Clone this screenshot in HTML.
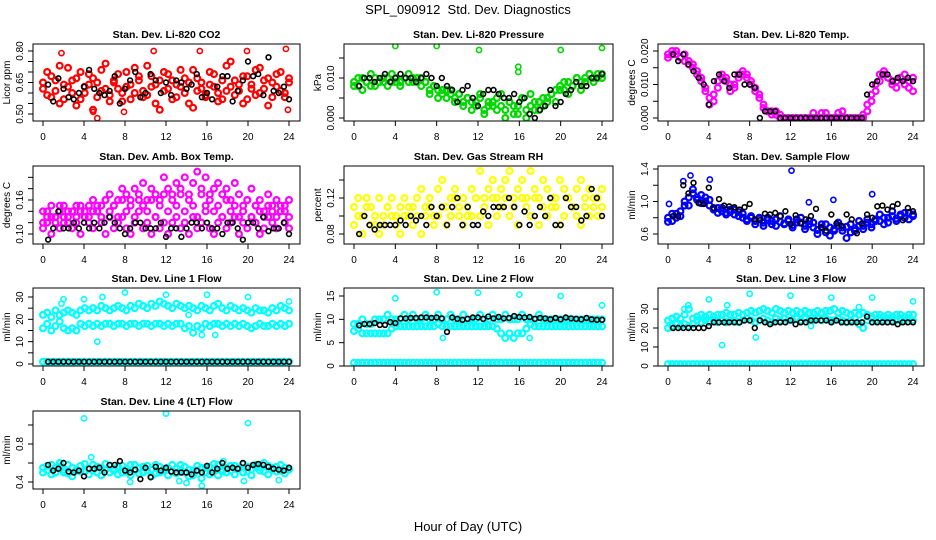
<!DOCTYPE html>
<html><head><meta charset="utf-8"><style>
html,body{margin:0;padding:0;background:#fff;}
svg{display:block;font-family:"Liberation Sans",Arial,sans-serif;}
</style></head><body>
<svg id="chart" width="936" height="540" viewBox="0 0 936 540" xmlns="http://www.w3.org/2000/svg">
<rect x="0" y="0" width="936" height="540" fill="#fff"/>
<text x="468" y="14" text-anchor="middle" font-size="13">SPL_090912&#160; Std. Dev. Diagnostics</text>
<text x="468" y="531" text-anchor="middle" font-size="13">Hour of Day (UTC)</text>
</svg>
<script>
// ---- data ----
const xTicks=[0,4,8,12,16,20,24];
const co2A=[0.62,0.70,0.58,0.66,0.55,0.64,0.72,0.60,0.67,0.57,0.63,0.69,0.52,0.65,0.61,0.74,0.59,0.66,0.62,0.56,0.70,0.64,0.60,0.68,0.58,0.73,0.63,0.55,0.66,0.61,0.69,0.57,0.64,0.71,0.60,0.65,0.53,0.67,0.62,0.58,0.70,0.63,0.56,0.66,0.61,0.75,0.59,0.64,0.68,0.57,0.62,0.71,0.60,0.66,0.54,0.65,0.69,0.61,0.58,0.67];
const co2B=[0.65,0.59,0.68,0.61,0.73,0.57,0.63,0.66,0.54,0.70,0.60,0.64,0.67,0.58,0.71,0.62,0.56,0.65,0.69,0.60,0.63,0.57,0.72,0.66,0.61,0.59,0.68,0.64,0.52,0.70,0.62,0.66,0.58,0.63,0.67,0.55,0.71,0.61,0.65,0.59,0.64,0.69,0.60,0.57,0.73,0.63,0.66,0.61,0.55,0.68,0.64,0.59,0.72,0.62,0.67,0.58,0.63,0.70,0.60,0.65];
const co2OutH=[1.8,5.3,7.9,10.8,15.3,19.9,23.7,23.9,4.9];
const co2OutV=[0.79,0.48,0.51,0.80,0.80,0.80,0.81,0.52,0.51];
const co2K=[0.64,0.56,0.67,0.62,0.58,0.57,0.60,0.63,0.71,0.62,0.60,0.59,0.61,0.68,0.55,0.62,0.66,0.70,0.58,0.60,0.69,0.66,0.60,0.65,0.59,0.66,0.65,0.62,0.64,0.69,0.58,0.60,0.57,0.63,0.68,0.68,0.56,0.61,0.66,0.75,0.68,0.69,0.59,0.77,0.61,0.60,0.63,0.57];

const prA=[0.009,0.008,0.010,0.009,0.008,0.010,0.009,0.009,0.010,0.009,0.010,0.009,0.010,0.009,0.010,0.009,0.010,0.009,0.007,0.008,0.007,0.006,0.007,0.006,0.005,0.006,0.004,0.005,0.004,0.003,0.005,0.002,0.004,0.003,0.005,0.003,0.002,0.004,0.003,0.001,0.005,0.002,0.003,0.004,0.002,0.005,0.004,0.006,0.007,0.008,0.007,0.009,0.008,0.010,0.009,0.010,0.011,0.010,0.011,0.010];
const prB=[0.008,0.010,0.007,0.009,0.011,0.008,0.009,0.010,0.008,0.011,0.009,0.008,0.010,0.011,0.009,0.010,0.008,0.009,0.006,0.008,0.005,0.007,0.005,0.007,0.004,0.006,0.003,0.005,0.002,0.004,0.006,0.001,0.003,0.004,0.002,0.006,0.000,0.004,0.001,0.003,0.005,0.000,0.006,0.002,0.004,0.003,0.005,0.006,0.004,0.007,0.009,0.006,0.008,0.010,0.007,0.009,0.011,0.009,0.010,0.011];
const prOutH=[4,8,12.1,20,24,15.9,15.9];
const prOutV=[0.018,0.018,0.017,0.017,0.0175,0.0128,0.0115];
const prK=[0.008,0.010,0.010,0.009,0.010,0.011,0.009,0.010,0.011,0.010,0.010,0.009,0.010,0.011,0.010,0.008,0.010,0.008,0.007,0.004,0.007,0.008,0.005,0.003,0.006,0.007,0.007,0.006,0.005,0.005,0.006,0.004,0.005,0.001,0.000,0.002,0.003,0.007,0.003,0.004,0.006,0.007,0.009,0.008,0.008,0.010,0.010,0.011];

const tpA=[0.019,0.020,0.019,0.018,0.019,0.017,0.016,0.014,0.011,0.008,0.004,0.007,0.011,0.013,0.011,0.008,0.010,0.013,0.013,0.012,0.010,0.008,0.006,0.003,0.002,0.001,0.002,0.001,0,0,0,0,0,0,0,0.0015,0,0.0015,0.0015,0,0,0.0015,0.002,0,0,0,0,0.001,0.004,0.007,0.010,0.013,0.013,0.012,0.010,0.011,0.012,0.010,0.009,0.012];
const tpB=[0.018,0.019,0.020,0.018,0.017,0.016,0.015,0.013,0.012,0.009,0.006,0.005,0.009,0.012,0.012,0.010,0.009,0.012,0.014,0.013,0.011,0.009,0.007,0.004,0.002,0.002,0.001,0,0,0,0,0,0,0,0,0,0,0,0,0,0,0,0,0,0,0,0,0,0.002,0.005,0.008,0.011,0.014,0.012,0.011,0.009,0.012,0.013,0.011,0.008];
const tpK=[0.019,0.017,0.019,0.016,0.014,0.012,0.010,0.004,0.011,0.013,0.011,0.009,0.013,0.013,0.010,0.010,0.009,0,0.002,0.002,0.002,0,0,0,0,0,0,0,0,0,0,0,0,0,0,0,0,0,0.007,0.010,0.011,0.013,0.013,0.011,0.012,0.011,0.012,0.011];

const abA=[0.11,0.12,0.10,0.13,0.11,0.12,0.14,0.11,0.12,0.10,0.13,0.12,0.11,0.14,0.12,0.10,0.13,0.11,0.12,0.13,0.11,0.10,0.12,0.14,0.11,0.12,0.10,0.13,0.11,0.12,0.10,0.12,0.13,0.11,0.12,0.10,0.13,0.11,0.12,0.14,0.11,0.10,0.12,0.13,0.11,0.12,0.13,0.10,0.12,0.11,0.13,0.12,0.10,0.11,0.13,0.12,0.11,0.14,0.12,0.11];
const abB=[0.14,0.13,0.15,0.13,0.14,0.15,0.13,0.14,0.15,0.14,0.13,0.15,0.16,0.14,0.15,0.16,0.17,0.15,0.16,0.18,0.17,0.16,0.18,0.17,0.19,0.16,0.18,0.17,0.16,0.20,0.18,0.17,0.19,0.18,0.20,0.17,0.19,0.21,0.18,0.20,0.17,0.18,0.19,0.17,0.18,0.16,0.19,0.17,0.15,0.16,0.18,0.15,0.16,0.14,0.17,0.15,0.16,0.14,0.15,0.16];
const abC=[0.12,0.14,0.13,0.12,0.15,0.13,0.12,0.14,0.13,0.15,0.14,0.13,0.14,0.15,0.13,0.16,0.14,0.15,0.13,0.16,0.14,0.15,0.13,0.16,0.15,0.14,0.16,0.13,0.15,0.17,0.14,0.16,0.15,0.17,0.14,0.16,0.15,0.13,0.17,0.15,0.16,0.14,0.15,0.13,0.16,0.14,0.15,0.13,0.14,0.16,0.13,0.15,0.14,0.13,0.15,0.14,0.13,0.15,0.14,0.13];
const abK=[0.09,0.11,0.14,0.11,0.11,0.12,0.11,0.12,0.11,0.12,0.11,0.12,0.13,0.12,0.11,0.10,0.11,0.12,0.12,0.11,0.11,0.11,0.12,0.095,0.11,0.11,0.095,0.11,0.12,0.12,0.11,0.12,0.11,0.11,0.10,0.12,0.12,0.11,0.09,0.12,0.12,0.11,0.13,0.105,0.11,0.11,0.12,0.10];

const rhA=[0.09,0.10,0.08,0.11,0.09,0.10,0.08,0.09,0.11,0.10,0.09,0.08,0.10,0.11,0.09,0.10,0.08,0.10,0.11,0.09,0.10,0.11,0.09,0.10,0.12,0.10,0.09,0.11,0.10,0.12,0.10,0.11,0.09,0.12,0.10,0.11,0.12,0.10,0.11,0.09,0.12,0.11,0.10,0.12,0.09,0.11,0.10,0.12,0.11,0.09,0.10,0.12,0.11,0.10,0.09,0.11,0.10,0.12,0.10,0.11];
const rhB=[0.11,0.12,0.10,0.12,0.11,0.09,0.12,0.10,0.11,0.12,0.10,0.11,0.12,0.10,0.11,0.12,0.13,0.11,0.12,0.10,0.13,0.14,0.11,0.12,0.13,0.11,0.12,0.10,0.13,0.12,0.15,0.12,0.13,0.14,0.12,0.13,0.14,0.15,0.12,0.13,0.14,0.12,0.15,0.13,0.12,0.14,0.13,0.11,0.12,0.14,0.13,0.12,0.11,0.13,0.14,0.12,0.13,0.11,0.12,0.13];
const rhK=[0.08,0.10,0.09,0.085,0.09,0.09,0.09,0.09,0.095,0.09,0.10,0.095,0.10,0.09,0.11,0.10,0.11,0.09,0.11,0.12,0.09,0.11,0.09,0.09,0.105,0.10,0.11,0.11,0.11,0.12,0.11,0.09,0.105,0.09,0.10,0.11,0.10,0.12,0.09,0.09,0.12,0.11,0.11,0.095,0.10,0.13,0.12,0.10];

const sfA=[0.80,0.76,0.85,0.82,0.95,1.05,1.10,1.02,0.98,1.05,0.95,0.90,0.92,0.88,0.86,0.90,0.84,0.87,0.80,0.78,0.82,0.76,0.79,0.74,0.77,0.72,0.78,0.75,0.73,0.76,0.71,0.78,0.74,0.70,0.76,0.68,0.65,0.72,0.62,0.68,0.66,0.70,0.64,0.69,0.62,0.67,0.70,0.66,0.74,0.72,0.78,0.76,0.80,0.74,0.82,0.79,0.84,0.80,0.86,0.82];
const sfB=[0.75,0.85,0.80,0.88,1.00,0.95,1.15,1.05,1.08,1.00,1.02,0.92,0.86,0.92,0.84,0.87,0.90,0.82,0.85,0.76,0.80,0.72,0.80,0.70,0.80,0.76,0.70,0.82,0.72,0.78,0.68,0.74,0.80,0.66,0.72,0.74,0.60,0.68,0.72,0.58,0.64,0.74,0.68,0.55,0.72,0.64,0.76,0.70,0.78,0.68,0.76,0.84,0.72,0.80,0.88,0.76,0.82,0.86,0.78,0.84];
const sfOutH=[12.1,1.5,2.2,4.1,20,0.1,16.2,13.8];
const sfOutV=[1.38,1.25,1.32,1.27,1.09,0.97,1.02,0.99];
const sfK=[0.82,0.82,1.20,1.10,1.23,0.98,0.97,1.17,0.92,1.03,0.95,0.94,0.93,0.90,0.93,0.97,0.78,0.77,0.85,0.84,0.86,0.82,0.88,0.72,0.83,0.73,0.78,0.82,0.91,0.68,0.64,0.84,0.73,0.70,0.84,0.78,0.61,0.73,0.84,0.80,0.94,0.95,0.90,0.94,0.97,0.77,0.92,0.88];

const l1Up=[22,23,21,24,22,23,24,23,22,24,25,24,25,24,26,25,24,25,26,25,24,26,25,27,26,25,27,26,28,27,26,25,27,26,25,26,25,24,26,25,24,26,27,25,24,26,25,24,25,24,23,25,24,24,23,25,24,26,25,24];
const l1Lo=[16,18,15,17,19,16,15,16,15,18,17,18,17,18,17,18,18,17,18,18,17,18,18,17,18,18,17,18,18,17,18,17,18,18,16,17,14,17,16,18,17,18,18,17,18,17,18,17,18,17,16,17,18,17,17,18,17,18,17,18];
const l1Zero=[1,1,1,1,1,1,1,1,1,1,1,1,1,1,1,1,1,1,1,1,1,1,1,1,1,1,1,1,1,1,1,1,1,1,1,1,1,1,1,1,1,1,1,1,1,1,1,1,1,1,1,1,1,1,1,1,1,1,1,1];
const l1OutH=[5.3,2,4,5.8,8,12,16,20,24,15.5,16.8,1.8,14.2];
const l1OutV=[10,29,29,30,32,31,31,30,28,13,13,27,22];
const l1K=[1,1,1,1,1,1,1,1,1,1,1,1,1,1,1,1,1,1,1,1,1,1,1,1,1,1,1,1,1,1,1,1,1,1,1,1,1,1,1,1,1,1,1,1,1,1,1,1];

const l2Up=[9,9,10,9,9,10,10,10,11,10,10,10,11,10,11,10,10,11,10,10,11,10,10,11,10,10,11,10,10,10,11,10,10,11,10,10,11,10,10,10,11,10,10,10,11,10,10,10,10,10,10,10,10,10,10,10,10,10,10,10];
const l2Lo=[7.5,8,7,7,7,7,7,7,7,8,8.5,8.5,8.5,8.5,8.5,8.5,8.5,8.5,8.5,8.5,9,8.5,8.5,8.5,8.5,8.5,8.5,8.5,8.5,8.5,8.5,8.5,8.5,8.5,8,7,6,7,6,7,7,8,9,8.5,8.5,8.5,8.5,8.5,8.5,8.5,8.5,8.5,8.5,8.5,8.5,8.5,8.5,8.5,8.5,8.5];
const l2Zero=[0.7,0.7,0.7,0.7,0.7,0.7,0.7,0.7,0.7,0.7,0.7,0.7,0.7,0.7,0.7,0.7,0.7,0.7,0.7,0.7,0.7,0.7,0.7,0.7,0.7,0.7,0.7,0.7,0.7,0.7,0.7,0.7,0.7,0.7,0.7,0.7,0.7,0.7,0.7,0.7,0.7,0.7,0.7,0.7,0.7,0.7,0.7,0.7,0.7,0.7,0.7,0.7,0.7,0.7,0.7,0.7,0.7,0.7,0.7,0.7];
const l2OutH=[4,8,12,16,20,24,8.6,17];
const l2OutV=[14.5,15.8,15.7,15.3,15,13,6,6];
const l2K=[8.7,9,9,9.2,8.8,8.8,9.4,9.2,10.2,10.2,10.3,10.3,10.4,10.4,10.3,10.4,10.2,7.3,10.4,10.1,9.9,10.1,10.4,10.4,10.1,10.6,10.2,10.5,10.2,10.3,10.7,10.5,10.4,10.5,10.1,10.3,10.2,10.0,10.3,10.0,10.4,10.2,10.1,10.0,10.3,10.0,9.9,9.9];

const l3Up=[24,25,26,25,27,30,25,26,27,26,27,26,27,27,28,27,27,28,27,28,29,28,29,30,29,28,30,29,28,29,28,29,28,29,28,28,29,28,29,29,30,28,29,28,27,28,27,28,27,26,27,27,26,27,26,27,27,26,27,27];
const l3Lo=[20,21,22,21,22,21,22,24,23,24,23,24,23,24,23,24,24,23,24,25,24,23,24,25,24,23,25,24,25,24,24,25,24,25,24,24,25,24,25,24,24,25,24,23,24,25,22,20,24,25,24,25,24,25,24,24,25,24,25,24];
const l3Zero=[1,1,1,1,1,1,1,1,1,1,1,1,1,1,1,1,1,1,1,1,1,1,1,1,1,1,1,1,1,1,1,1,1,1,1,1,1,1,1,1,1,1,1,1,1,1,1,1,1,1,1,1,1,1,1,1,1,1,1,1];
const l3OutH=[4,5.3,5.8,8,8.6,12,16,20,24,1.6,2,14,18.7];
const l3OutV=[35,11,32,38,15,37,36,36,34,30,32,21,31];
const l3K=[20,20,20,20,20,20,20,21,23,23,23,23,23,23,24,24,20,24,23,22,23,23,23,24,22,23,23,24,24,24,24,23,24,23,23,23,23,23,26,23,23,23,23,23,22,23,23,23];

const l4A=[0.55,0.52,0.58,0.50,0.56,0.53,0.49,0.55,0.52,0.57,0.51,0.54,0.58,0.50,0.55,0.53,0.57,0.52,0.56,0.50,0.54,0.58,0.52,0.55,0.50,0.57,0.53,0.49,0.56,0.52,0.55,0.51,0.54,0.58,0.50,0.53,0.47,0.52,0.55,0.50,0.56,0.53,0.58,0.51,0.55,0.52,0.57,0.54,0.50,0.56,0.53,0.58,0.55,0.51,0.57,0.53,0.56,0.52,0.55,0.53];
const l4B=[0.50,0.57,0.48,0.55,0.60,0.50,0.58,0.46,0.53,0.51,0.59,0.48,0.52,0.56,0.47,0.59,0.50,0.54,0.48,0.57,0.51,0.47,0.58,0.49,0.56,0.52,0.46,0.58,0.50,0.54,0.47,0.58,0.49,0.53,0.56,0.46,0.52,0.57,0.44,0.55,0.48,0.59,0.47,0.53,0.50,0.57,0.48,0.55,0.59,0.51,0.47,0.56,0.52,0.60,0.48,0.55,0.51,0.58,0.49,0.54];
const l4OutH=[4,12,20,4.7,8.5,15.5,19.6,23,17.6,14,13.3];
const l4OutV=[1.07,1.12,1.02,0.66,0.40,0.36,0.41,0.42,0.62,0.39,0.41];
const l4K=[0.58,0.52,0.54,0.60,0.51,0.50,0.52,0.46,0.54,0.54,0.55,0.50,0.58,0.58,0.62,0.52,0.50,0.53,0.43,0.55,0.45,0.56,0.52,0.55,0.51,0.50,0.50,0.50,0.48,0.52,0.50,0.57,0.50,0.54,0.60,0.54,0.55,0.54,0.60,0.55,0.58,0.59,0.58,0.56,0.54,0.53,0.52,0.55];

// ---- layout ----
const NS='http://www.w3.org/2000/svg';
const svg=document.getElementById('chart');
const colX0=[43,354,668], colX24=[289,602,913];
const rowTop=[44,166,288,411], rowBot=[121,244,366,489];
function mk(tag,attrs,parent){const e=document.createElementNS(NS,tag);for(const k in attrs)e.setAttribute(k,attrs[k]);(parent||svg).appendChild(e);return e;}
function fmt(v,d){return v.toFixed(d);}

const panels=[
 {name:'co2',title:'Stan. Dev. Li-820 CO2',ylab:'Licor ppm',c:0,r:0,cal:[0.80,51,0.50,114],ticks:[0.50,0.55,0.60,0.65,0.70,0.75,0.80],labs:[0.50,0.65,0.80],dec:2,col:'#ff0000',ser:[co2A,co2B],oh:co2OutH,ov:co2OutV,k:co2K},
 {name:'pressure',title:'Stan. Dev. Li-820 Pressure',ylab:'kPa',c:1,r:0,cal:[0.010,78,0.000,118],ticks:[0,0.005,0.010,0.015],labs:[0,0.010],dec:3,col:'#00d800',ser:[prA,prB],oh:prOutH,ov:prOutV,k:prK},
 {name:'temp',title:'Stan. Dev. Li-820 Temp.',ylab:'degrees C',c:2,r:0,cal:[0.020,51,0.000,118],ticks:[0,0.005,0.010,0.015,0.020],labs:[0,0.010,0.020],dec:3,col:'#ff00ff',ser:[tpA,tpB],oh:[],ov:[],k:tpK},
 {name:'amb-box-temp',title:'Stan. Dev. Amb. Box Temp.',ylab:'degrees C',c:0,r:1,cal:[0.16,200,0.10,234],ticks:[0.10,0.12,0.14,0.16,0.18,0.20],labs:[0.10,0.16],dec:2,col:'#ff00ff',ser:[abA,abB,abC],oh:[],ov:[],k:abK},
 {name:'gas-rh',title:'Stan. Dev. Gas Stream RH',ylab:'percent',c:1,r:1,cal:[0.12,198,0.08,234],ticks:[0.08,0.10,0.12,0.14],labs:[0.08,0.12],dec:2,col:'#ffff00',ser:[rhA,rhB],oh:[],ov:[],k:rhK},
 {name:'sample-flow',title:'Stan. Dev. Sample Flow',ylab:'ml/min',c:2,r:1,cal:[1.4,169,0.6,234],ticks:[0.6,0.8,1.0,1.2,1.4],labs:[0.6,1.0,1.4],dec:1,col:'#0000ff',ser:[sfA,sfB],oh:sfOutH,ov:sfOutV,k:sfK},
 {name:'line1-flow',title:'Stan. Dev. Line 1 Flow',ylab:'ml/min',c:0,r:2,cal:[30,297,0,364],ticks:[0,5,10,15,20,25,30],labs:[0,10,20,30],dec:0,col:'#00ffff',ser:[l1Up,l1Lo,l1Zero],oh:l1OutH,ov:l1OutV,k:l1K},
 {name:'line2-flow',title:'Stan. Dev. Line 2 Flow',ylab:'ml/min',c:1,r:2,cal:[15,296,0,366],ticks:[0,5,10,15],labs:[0,5,10,15],dec:0,col:'#00ffff',ser:[l2Up,l2Lo,l2Zero],oh:l2OutH,ov:l2OutV,k:l2K},
 {name:'line3-flow',title:'Stan. Dev. Line 3 Flow',ylab:'ml/min',c:2,r:2,cal:[30,309,0,366],ticks:[0,10,20,30],labs:[0,10,20,30],dec:0,col:'#00ffff',ser:[l3Up,l3Lo,l3Zero],oh:l3OutH,ov:l3OutV,k:l3K},
 {name:'line4-flow',title:'Stan. Dev. Line 4 (LT) Flow',ylab:'ml/min',c:0,r:3,cal:[0.8,444,0.4,482],ticks:[0.4,0.6,0.8,1.0],labs:[0.4,0.8],dec:1,col:'#00ffff',ser:[l4A,l4B],oh:l4OutH,ov:l4OutV,k:l4K}
];

panels.forEach(p=>{
  const x0=colX0[p.c], x24=colX24[p.c];
  const L=x0-10, R=x24+11, T=rowTop[p.r], B=rowBot[p.r];
  const xs=h=>x0+h*(x24-x0)/24;
  const [v1,p1,v2,p2]=p.cal;
  const ys=v=>p1+(v-v1)*(p2-p1)/(v2-v1);
  const g=mk('g',{});
  
  
  const t=mk('text',{x:(L+R)/2,y:T-6,'text-anchor':'middle','font-size':'10.5','font-weight':'bold'},g);
  
  
  t.textContent=p.title;
  const cid='clip-'+p.name;
  const cp=mk('clipPath',{id:cid},g); mk('rect',{x:L,y:T,width:R-L,height:B-T},cp);
  const pts=mk('g',{'clip-path':'url(#'+cid+')'},g);
  
  
  p.ser.forEach(s=>{
    const n=s.length;
    s.forEach((v,i)=>{
      const c=mk('circle',{cx:xs(i*24/(n-1)),cy:ys(v),r:2.9,fill:'none',stroke:p.col,'stroke-width':2.2},pts);
      
      
    });
  });
  p.oh.forEach((h,i)=>{
    const c=mk('circle',{cx:xs(h),cy:ys(p.ov[i]),r:2.6,fill:'none',stroke:p.col,'stroke-width':1.6},pts);
    
    
  });
  p.k.forEach((v,i)=>{
    const c=mk('circle',{cx:xs(0.5+i*0.5),cy:ys(v),r:2.4,fill:'none',stroke:'#000','stroke-width':1.6},pts);
    
    
  });
  const box=mk('rect',{x:L,y:T,width:R-L,height:B-T,fill:'none',stroke:'#000','stroke-width':1},g);
  
  
  xTicks.forEach(h=>{
    mk('line',{x1:xs(h),x2:xs(h),y1:B,y2:B+5,stroke:'#000'},g);
    const tl=mk('text',{x:xs(h),y:B+19,'text-anchor':'middle','font-size':'10'},g);
    
    
    tl.textContent=h;
  });
  p.ticks.forEach(v=>{ mk('line',{x1:L-5,x2:L,y1:ys(v),y2:ys(v),stroke:'#000'},g); });
  p.labs.forEach(v=>{
    const y=ys(v), x=L-10;
    const tl=mk('text',{x:x,y:y,'text-anchor':'middle','font-size':'10',transform:'rotate(-90 '+x+' '+y+')'},g);
    
    
    tl.textContent=fmt(v,p.dec);
  });
  const yx=L-23, yy=(T+B)/2;
  const yl=mk('text',{x:yx,y:yy,'text-anchor':'middle','font-size':'10',transform:'rotate(-90 '+yx+' '+yy+')'},g);
  
  
  yl.textContent=p.ylab;
});
</script>
</body></html>
